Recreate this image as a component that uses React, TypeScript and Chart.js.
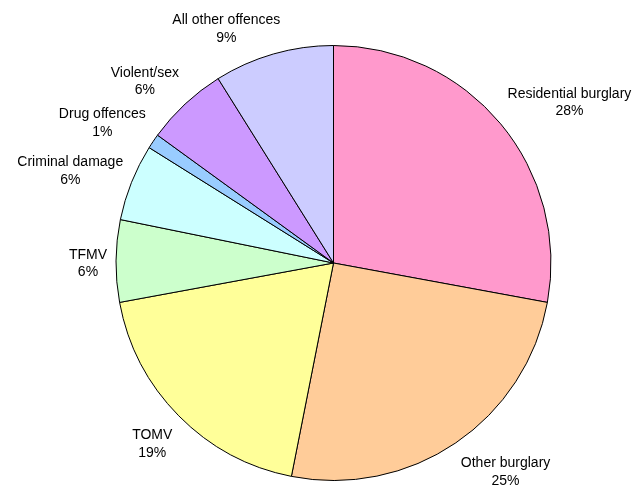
import React, { useEffect, useRef } from "react";
import { Chart, registerables } from "chart.js";

Chart.register(...registerables);

const categories = [
  "Residential burglary",
  "Other burglary",
  "TOMV",
  "TFMV",
  "Criminal damage",
  "Drug offences",
  "Violent/sex",
  "All other offences",
];
const shares = [27.9, 25.2, 19.0, 6.1, 5.7, 1.1, 6.1, 8.9];
const sliceColors = [
  "#FF99CC",
  "#FFCC99",
  "#FFFF99",
  "#CCFFCC",
  "#CCFFFF",
  "#99CCFF",
  "#CC99FF",
  "#CCCCFF",
];

const labelPlugin = {
  id: "outsideLabels",
  afterDatasetsDraw(chart: any) {
    const ctx = chart.ctx as CanvasRenderingContext2D;
    const meta = chart.getDatasetMeta(0);
    const total = shares.reduce((a, b) => a + b, 0);
    ctx.save();
    ctx.font = "14px 'Liberation Sans', Arial, sans-serif";
    ctx.fillStyle = "#000";
    ctx.textAlign = "center";
    ctx.textBaseline = "middle";
    const lineGap = 17.5;
    meta.data.forEach((arc: any, i: number) => {
      const { x, y, startAngle, endAngle, outerRadius } = arc.getProps(
        ["x", "y", "startAngle", "endAngle", "outerRadius"],
        true
      );
      const mid = (startAngle + endAngle) / 2;
      const c = Math.cos(mid);
      const s = Math.sin(mid);
      const R = outerRadius + 9;
      const ax = x + c * R;
      const ay = y + s * R;
      const l1 = categories[i];
      const l2 = Math.round((shares[i] / total) * 100) + "%";
      const w = Math.max(ctx.measureText(l1).width, ctx.measureText(l2).width);
      const h = 38;
      const fx = Math.max(-1, Math.min(1, c * 3));
      const fy = Math.max(-1, Math.min(1, s * 1.5));
      const cx = ax + (fx * w) / 2;
      const cy = ay + (fy * h) / 2 + 3;
      ctx.fillText(l1, cx, cy - lineGap / 2);
      ctx.fillText(l2, cx, cy + lineGap / 2);
    });
    ctx.restore();
  },
};

export default function App() {
  const ref = useRef<HTMLCanvasElement | null>(null);
  useEffect(() => {
    document.body.style.margin = "0";
    const canvas = ref.current;
    if (!canvas) return;
    const chart = new Chart(canvas, {
      type: "pie",
      data: {
        labels: categories,
        datasets: [
          {
            data: shares,
            backgroundColor: sliceColors,
            borderColor: "#000",
            borderWidth: 1,
          },
        ],
      },
      options: {
        responsive: false,
        animation: false,
        radius: 217.5,
        layout: { padding: { left: 30, right: 0, top: 41, bottom: 0 } },
        plugins: {
          legend: { display: false },
          tooltip: { enabled: false },
        },
      } as any,
      plugins: [labelPlugin],
    });
    return () => chart.destroy();
  }, []);
  return (
    <div style={{ width: 637, height: 485, background: "#fff" }}>
      <canvas ref={ref} width={637} height={485} style={{ display: "block" }} />
    </div>
  );
}
